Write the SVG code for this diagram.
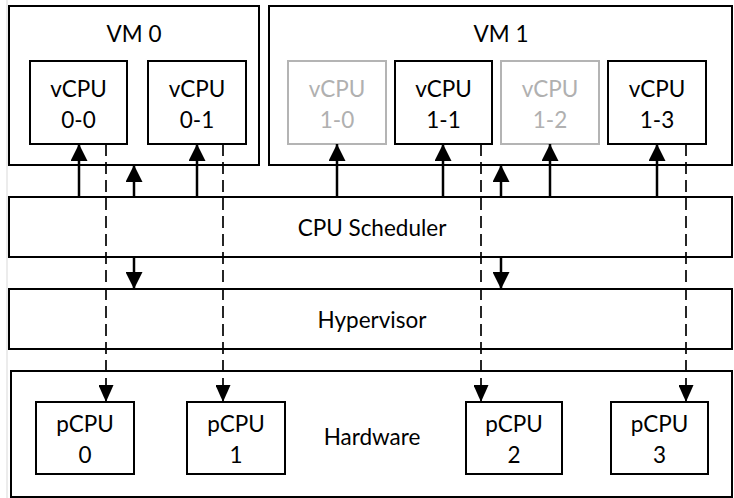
<svg xmlns="http://www.w3.org/2000/svg" width="734" height="498" viewBox="0 0 734 498">
  <defs>
    <style>
      .box { fill: #ffffff; stroke: #000000; stroke-width: 2; }
      .box.idle { stroke: #b4b4b4; }
      .lbl { font-family: Lato, "Open Sans", "Liberation Sans", sans-serif; font-size: 22.5px; fill: #000000; text-anchor: middle; }
      .lbl.idle { fill: #b0b0b0; }
      .run { stroke: #000000; stroke-width: 2.5; fill: none; }
      .map { stroke: #000000; stroke-width: 1.7; fill: none; stroke-dasharray: 12 6; }
    </style>
    <marker id="head" viewBox="0 0 18 17" refX="17" refY="8.5" markerWidth="18" markerHeight="17" markerUnits="userSpaceOnUse" orient="auto">
      <path d="M0,0 L17,8.5 L0,17 Z" fill="#000000"/>
    </marker>
    <marker id="headSmall" viewBox="0 0 17 15" refX="17" refY="7.5" markerWidth="17" markerHeight="15" markerUnits="userSpaceOnUse" orient="auto">
      <path d="M0,0 L17,7.5 L0,15 Z" fill="#000000"/>
    </marker>
  </defs>

  <rect width="734" height="498" fill="#ffffff"/>
  <line x1="7" y1="0" x2="7" y2="498" stroke="#d9d9d9" stroke-width="1"/>

  <!-- virtual machines -->
  <g id="vm0">
    <rect class="box" x="9" y="6" width="250" height="159"/>
    <text class="lbl" x="134" y="42">VM 0</text>
  </g>
  <g id="vm1">
    <rect class="box" x="269" y="6" width="463" height="159"/>
    <text class="lbl" x="501" y="42">VM 1</text>
  </g>

  <!-- virtual CPUs -->
  <g id="vcpu-0-0">
    <rect class="box" x="30" y="61" width="97" height="83"/>
    <text class="lbl" x="78.5" y="97">vCPU</text>
    <text class="lbl" x="78.5" y="128">0-0</text>
  </g>
  <g id="vcpu-0-1">
    <rect class="box" x="148" y="61" width="98" height="83"/>
    <text class="lbl" x="197" y="97">vCPU</text>
    <text class="lbl" x="197" y="128">0-1</text>
  </g>
  <g id="vcpu-1-0">
    <rect class="box idle" x="288" y="61" width="98" height="83"/>
    <text class="lbl idle" x="337" y="97">vCPU</text>
    <text class="lbl idle" x="337" y="128">1-0</text>
  </g>
  <g id="vcpu-1-1">
    <rect class="box" x="395" y="61" width="97" height="83"/>
    <text class="lbl" x="443.5" y="97">vCPU</text>
    <text class="lbl" x="443.5" y="128">1-1</text>
  </g>
  <g id="vcpu-1-2">
    <rect class="box idle" x="501" y="61" width="98" height="83"/>
    <text class="lbl idle" x="550" y="97">vCPU</text>
    <text class="lbl idle" x="550" y="128">1-2</text>
  </g>
  <g id="vcpu-1-3">
    <rect class="box" x="608" y="61" width="98" height="83"/>
    <text class="lbl" x="657" y="97">vCPU</text>
    <text class="lbl" x="657" y="128">1-3</text>
  </g>

  <!-- software layers -->
  <g id="scheduler">
    <rect class="box" x="9" y="197" width="723" height="60"/>
    <text class="lbl" x="372" y="236">CPU Scheduler</text>
  </g>
  <g id="hypervisor">
    <rect class="box" x="9" y="289" width="723" height="60"/>
    <text class="lbl" x="372" y="328">Hypervisor</text>
  </g>

  <!-- physical hardware -->
  <g id="hardware">
    <rect class="box" x="11" y="371" width="721" height="126"/>
    <text class="lbl" x="372" y="445">Hardware</text>
  </g>
  <g id="pcpu-0">
    <rect class="box" x="36" y="402" width="98" height="72"/>
    <text class="lbl" x="85" y="432">pCPU</text>
    <text class="lbl" x="85" y="463">0</text>
  </g>
  <g id="pcpu-1">
    <rect class="box" x="187" y="402" width="98" height="72"/>
    <text class="lbl" x="236" y="432">pCPU</text>
    <text class="lbl" x="236" y="463">1</text>
  </g>
  <g id="pcpu-2">
    <rect class="box" x="466" y="402" width="96" height="72"/>
    <text class="lbl" x="514" y="432">pCPU</text>
    <text class="lbl" x="514" y="463">2</text>
  </g>
  <g id="pcpu-3">
    <rect class="box" x="611" y="402" width="97" height="72"/>
    <text class="lbl" x="659.5" y="432">pCPU</text>
    <text class="lbl" x="659.5" y="463">3</text>
  </g>

  <!-- connectors -->
  <g id="connectors">
    <!-- scheduler dispatches onto vCPUs -->
    <line class="run" x1="79" y1="197" x2="79" y2="144" marker-end="url(#head)"/>
    <line class="run" x1="197" y1="197" x2="197" y2="144" marker-end="url(#head)"/>
    <line class="run" x1="337" y1="197" x2="337" y2="144" marker-end="url(#head)"/>
    <line class="run" x1="443" y1="197" x2="443" y2="144" marker-end="url(#head)"/>
    <line class="run" x1="550" y1="197" x2="550" y2="144" marker-end="url(#head)"/>
    <line class="run" x1="657" y1="197" x2="657" y2="144" marker-end="url(#head)"/>
    <!-- scheduler to VMs -->
    <line class="run" x1="134" y1="197" x2="134" y2="165" marker-end="url(#head)"/>
    <line class="run" x1="501" y1="197" x2="501" y2="165" marker-end="url(#head)"/>
    <!-- scheduler to hypervisor -->
    <line class="run" x1="134" y1="257" x2="134" y2="289" marker-end="url(#head)"/>
    <line class="run" x1="501" y1="257" x2="501" y2="289" marker-end="url(#head)"/>
    <!-- vCPU to pCPU mappings -->
    <line class="map" x1="106" y1="144" x2="106" y2="402" marker-end="url(#headSmall)"/>
    <line class="map" x1="223" y1="144" x2="223" y2="402" marker-end="url(#headSmall)"/>
    <line class="map" x1="481" y1="144" x2="481" y2="402" marker-end="url(#headSmall)"/>
    <line class="map" x1="686" y1="144" x2="686" y2="402" marker-end="url(#headSmall)"/>
  </g>
</svg>
